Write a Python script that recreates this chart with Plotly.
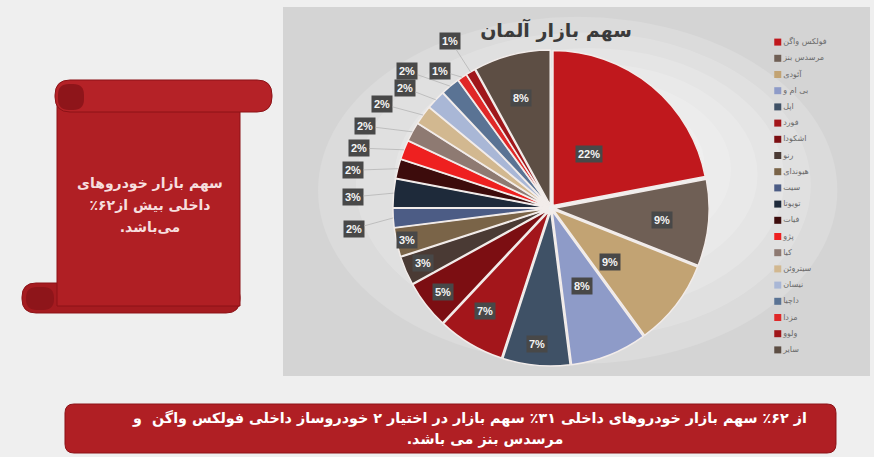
import math
import plotly.graph_objects as go

# ---------------- data ----------------
brands = ["فولکس واگن", "مرسدس بنز", "آئودی", "بی ام و", "اپل", "فورد", "اشکودا",
          "رنو", "هیوندای", "سیت", "تویوتا", "فیات", "پژو", "کیا", "سیتروئن",
          "نیسان", "داچیا", "مزدا", "ولوو", "سایر"]
shares = [22, 9, 9, 8, 7, 7, 5, 3, 3, 2, 3, 2, 2, 2, 2, 2, 2, 1, 1, 8]
chart_title = "سهم بازار آلمان"
scroll_lines = ["سهم بازار خودروهای", "داخلی بیش از۶۲٪", "می‌باشد."]
banner_lines = ["از ۶۲٪ سهم بازار خودروهای داخلی ۳۱٪ سهم بازار در اختیار ۲ خودروساز داخلی فولکس واگن  و",
                "مرسدس بنز می باشد."]

# ---------------- style ----------------
colors = ["#c0181d", "#6f5f55", "#c2a373", "#8e9bc8", "#3f5166", "#a3161b", "#7c0e12",
          "#4a3a34", "#7a6448", "#4c5c85", "#1e2a3a", "#3d0c0c", "#ee2020", "#8e7a72",
          "#d2b890", "#a9b7d6", "#5a7394", "#e02828", "#a0161a", "#5d4e44"]
W, H = 874, 457
CX, CY, R = 551, 208, 155
PULL = 0.02
FONT = "DejaVu Sans"
RLE, PDF = "\u202B", "\u202C"   # right-to-left embedding for Persian lines

# label placement (radius factor, angle nudge in degrees)
inside_idx = [0, 1, 2, 3, 4, 5, 6, 7, 8, 19]
inside_rf = [0.51, 0.77, 0.55, 0.52, 0.92, 0.82, 0.86, 0.88, 0.93, 0.77]
outside_idx = list(range(9, 19))
outside_pos = [(1.28, -2.4), (1.28, -2.2), (1.30, -3.6), (1.30, -4.3), (1.31, -5.0),
               (1.28, -4.4), (1.22, -3.8), (1.28, -6.8), (1.14, -4.8), (1.26, -0.4)]


def px(x):
    return x / W


def py(y):
    return 1 - y / H


def rtl(s):
    return RLE + s + PDF


def rrect(x0, y0, x1, y1, r):
    pts = [("M", [(x0 + r, y0)]), ("L", [(x1 - r, y0)]), ("Q", [(x1, y0), (x1, y0 + r)]),
           ("L", [(x1, y1 - r)]), ("Q", [(x1, y1), (x1 - r, y1)]), ("L", [(x0 + r, y1)]),
           ("Q", [(x0, y1), (x0, y1 - r)]), ("L", [(x0, y0 + r)]), ("Q", [(x0, y0), (x0 + r, y0)])]
    s = ""
    for cmd, ps in pts:
        s += cmd + " " + " ".join(f"{px(a):.5f},{py(b):.5f}" for a, b in ps) + " "
    return s + "Z"


fig = go.Figure()

half = R * (1 + PULL)
fig.add_trace(go.Pie(
    labels=brands, values=shares, sort=False, direction="clockwise", rotation=0,
    marker=dict(colors=colors, line=dict(color="#f2ecea", width=1.5)),
    pull=[PULL] * len(shares), textinfo="none", hoverinfo="label+value",
    showlegend=False,
    domain=dict(x=[px(CX - half), px(CX + half)], y=[py(CY + half), py(CY - half)]),
))

# custom legend via a hidden axis
fig.add_trace(go.Scatter(
    x=[0.06] * len(brands), y=brands, mode="markers+text",
    marker=dict(symbol="square", size=7, color=colors),
    text=[rtl(b) for b in brands], textposition="middle right",
    textfont=dict(size=8, color="#6a6a6a", family=FONT),
    hoverinfo="skip", showlegend=False, cliponaxis=False,
))
fig.update_layout(
    xaxis=dict(domain=[px(772), px(868)], range=[0, 1], visible=False, fixedrange=True),
    yaxis=dict(domain=[py(358), py(34)], type="category", categoryorder="array",
               categoryarray=brands, range=[len(brands) - 0.5, -0.5], visible=False,
               fixedrange=True),
    # full-page overlay axis (pixel units) for the Persian text blocks
    xaxis2=dict(domain=[0, 1], range=[0, W], visible=False, fixedrange=True, anchor="y2"),
    yaxis2=dict(domain=[0, 1], range=[H, 0], visible=False, fixedrange=True, anchor="x2"),
)

text_x, text_y, text_s = [], [], []
text_x.append(556); text_y.append(32); text_s.append(rtl(chart_title))
for k, line in enumerate(scroll_lines):
    text_x.append(150); text_y.append(184 + 22 * k); text_s.append(rtl(line))
banner_cx = [470, 485]
for k, line in enumerate(banner_lines):
    text_x.append(banner_cx[k]); text_y.append(419 + 21 * k); text_s.append(rtl(line))
sizes = [19] + [14] * len(scroll_lines) + [14.3] * len(banner_lines)
tcolors = ["#3a3a3a"] + ["#f6dede"] * len(scroll_lines) + ["#ffffff"] * len(banner_lines)
fig.add_trace(go.Scatter(
    x=text_x, y=text_y, xaxis="x2", yaxis="y2", mode="text", text=text_s,
    textposition="middle center",
    textfont=dict(size=sizes, color=tcolors, family=FONT, weight="bold"),
    hoverinfo="skip", showlegend=False, cliponaxis=False,
))

# ---------------- percentage labels ----------------
total = sum(shares)
cum = [sum(shares[:i]) for i in range(len(shares))]
mid_deg = [(cum[i] + shares[i] / 2) / total * 360 for i in range(len(shares))]

lab_font = dict(color="#f4f4f4", size=11, family="Liberation Sans", weight="bold")
annotations = []
for i, rf in zip(inside_idx, inside_rf):
    t = math.radians(mid_deg[i])
    r = rf * R + PULL * R
    x, y = CX + r * math.sin(t), CY - r * math.cos(t)
    annotations.append(dict(x=px(x), y=py(y), xref="paper", yref="paper", showarrow=False,
                            text=f"{shares[i]}%", bgcolor="#484848", borderpad=2, font=lab_font))
for i, (rf, dd) in zip(outside_idx, outside_pos):
    t = math.radians(mid_deg[i])
    re = R + PULL * R
    ex, ey = CX + re * math.sin(t), CY - re * math.cos(t)
    t2 = math.radians(mid_deg[i] + dd)
    tx, ty = CX + rf * R * math.sin(t2), CY - rf * R * math.cos(t2)
    annotations.append(dict(x=px(ex), y=py(ey), xref="paper", yref="paper", showarrow=True,
                            ax=tx - ex, ay=ty - ey, arrowhead=0, arrowwidth=0.8,
                            arrowcolor="#b5b5b5", standoff=0,
                            text=f"{shares[i]}%", bgcolor="#484848", borderpad=2, font=lab_font))

# ---------------- background shapes ----------------
shapes = [
    dict(type="rect", xref="paper", yref="paper", x0=px(283), x1=px(870), y0=py(376), y1=py(7),
         fillcolor="#d4d4d4", line=dict(width=0), layer="below"),
]
# soft radial glow inside the panel
for k in range(6):
    ix, iy = 18 + 38 * k, 8 + 26 * k
    shapes.append(dict(type="circle", xref="paper", yref="paper",
                       x0=px(300 + ix), x1=px(850 - ix * 0.7), y0=py(372 - iy), y1=py(12 + iy * 0.6),
                       fillcolor="rgba(255,255,255,0.16)", line=dict(width=0), layer="below"))
shapes += [
    # scroll: bottom roll, body, top roll
    dict(type="path", xref="paper", yref="paper", path=rrect(22, 283, 240, 313, 14),
         fillcolor="#a51b20", line=dict(color="#8c1217", width=1), layer="below"),
    dict(type="rect", xref="paper", yref="paper", x0=px(57), x1=px(240), y0=py(306), y1=py(96),
         fillcolor="#b01f24", line=dict(color="#8c1217", width=1), layer="below"),
    dict(type="path", xref="paper", yref="paper", path=rrect(55, 80, 272, 112, 15),
         fillcolor="#b52227", line=dict(color="#8c1217", width=1), layer="below"),
    dict(type="path", xref="paper", yref="paper", path=rrect(58, 84, 84, 110, 11),
         fillcolor="#8e151a", line=dict(width=0), layer="below"),
    dict(type="path", xref="paper", yref="paper", path=rrect(26, 287, 54, 310, 11),
         fillcolor="#8e151a", line=dict(width=0), layer="below"),
    # bottom banner
    dict(type="path", xref="paper", yref="paper", path=rrect(65, 404, 836, 453, 9),
         fillcolor="#b01f24", line=dict(color="#8c1217", width=1), layer="below"),
]

fig.update_layout(
    width=W, height=H, margin=dict(l=0, r=0, t=0, b=0),
    paper_bgcolor="#efefef", plot_bgcolor="rgba(0,0,0,0)",
    annotations=annotations, shapes=shapes, showlegend=False,
    font=dict(family=FONT),
)

fig.write_html("out.html", config={"displayModeBar": False},
               post_script="document.body.style.margin='0';")
